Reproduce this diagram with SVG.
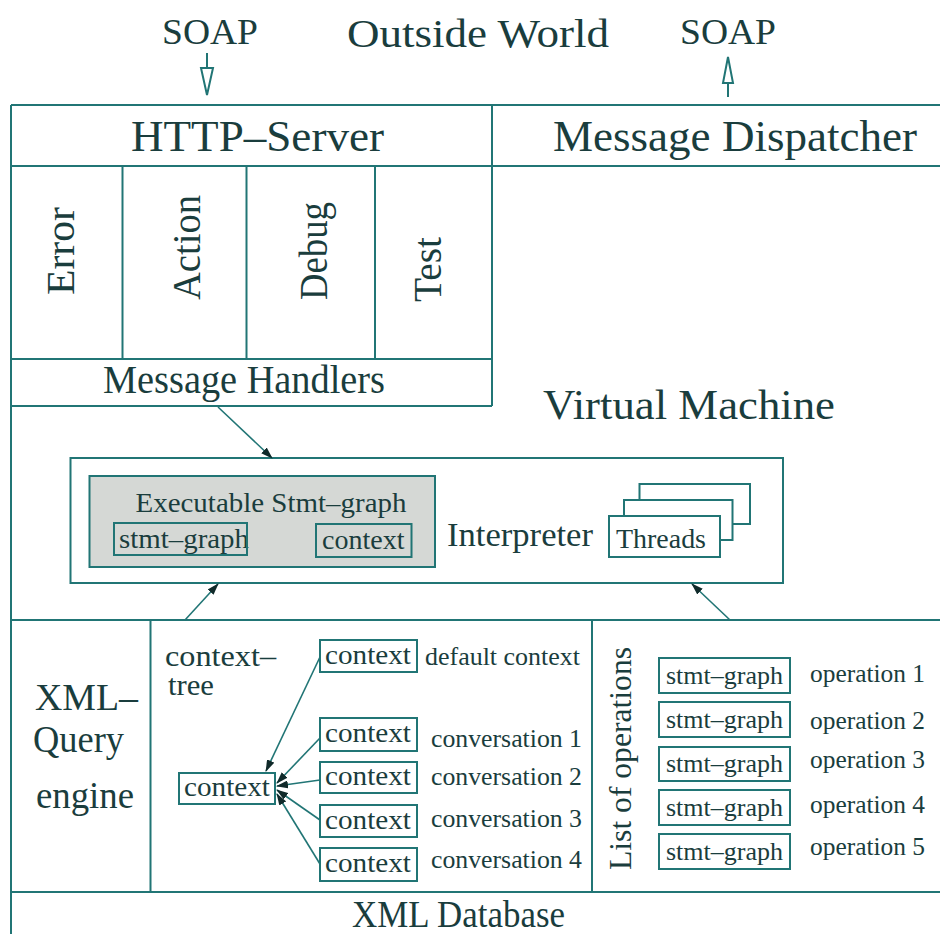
<svg xmlns="http://www.w3.org/2000/svg" width="940" height="934" viewBox="0 0 940 934">
<style>
  .ln { stroke: #217575; stroke-width: 2; fill: none; }
  .bx { stroke: #217575; stroke-width: 2; fill: #ffffff; }
  .gray { stroke: #217575; stroke-width: 2; fill: #d5d8d5; }
  .t { font-family: "Liberation Serif", "Times New Roman", serif; fill: #1a3d3d; }
  .big { font-size: 44px; }
  .mid { font-size: 34px; }
  .sm { font-size: 28px; }
  .xs { font-size: 26px; }
  .arr { stroke: #217575; stroke-width: 1.6; fill: none; marker-end: url(#ah); }
</style>
<defs>
  <marker id="ah" viewBox="0 0 12 8" refX="11" refY="4" markerWidth="12" markerHeight="8" markerUnits="userSpaceOnUse" orient="auto">
    <path d="M0,0 L12,4 L0,8 Z" fill="#102a2a"/>
  </marker>
</defs>
<rect width="940" height="934" fill="#ffffff"/>

<g id="outside">
  <text class="t" x="162" y="44" font-size="35" textLength="96" lengthAdjust="spacingAndGlyphs">SOAP</text>
  <text class="t" x="347" y="47" font-size="41" textLength="262" lengthAdjust="spacingAndGlyphs">Outside World</text>
  <text class="t" x="680" y="44" font-size="35" textLength="96" lengthAdjust="spacingAndGlyphs">SOAP</text>
</g>

<g id="frame">
  <line class="ln" x1="11" y1="105" x2="940" y2="105"/>
  <line class="ln" x1="11" y1="105" x2="11" y2="934"/>
  <line class="ln" x1="11" y1="166" x2="940" y2="166"/>
  <line class="ln" x1="11" y1="620" x2="940" y2="620"/>
  <line class="ln" x1="11" y1="892" x2="940" y2="892"/>
</g>

<g id="http-server">
  <line class="ln" x1="492" y1="105" x2="492" y2="406"/>
  <text class="t big" x="131" y="151" textLength="253" lengthAdjust="spacingAndGlyphs">HTTP–Server</text>
</g>

<g id="message-dispatcher">
  <text class="t big" x="553" y="151" textLength="364" lengthAdjust="spacingAndGlyphs">Message Dispatcher</text>
</g>

<g id="message-handlers">
  <line class="ln" x1="122.5" y1="166" x2="122.5" y2="359"/>
  <line class="ln" x1="246.5" y1="166" x2="246.5" y2="359"/>
  <line class="ln" x1="375" y1="166" x2="375" y2="359"/>
  <line class="ln" x1="11" y1="359" x2="492" y2="359"/>
  <line class="ln" x1="11" y1="406" x2="492" y2="406"/>
  <text class="t" font-size="41" transform="translate(74,295) rotate(-90)" textLength="88" lengthAdjust="spacingAndGlyphs">Error</text>
  <text class="t" font-size="41" transform="translate(200,300) rotate(-90)" textLength="105" lengthAdjust="spacingAndGlyphs">Action</text>
  <text class="t" font-size="41" transform="translate(327,300) rotate(-90)" textLength="98" lengthAdjust="spacingAndGlyphs">Debug</text>
  <text class="t" font-size="41" transform="translate(441,302) rotate(-90)" textLength="65" lengthAdjust="spacingAndGlyphs">Test</text>
  <text class="t" font-size="40" x="103" y="393" textLength="282" lengthAdjust="spacingAndGlyphs">Message Handlers</text>
</g>

<g id="virtual-machine">
  <text class="t" font-size="43" x="543" y="419" textLength="292" lengthAdjust="spacingAndGlyphs">Virtual Machine</text>
  <rect class="bx" x="70.5" y="458" width="712.5" height="125"/>
  <text class="t mid" x="447" y="546" textLength="146" lengthAdjust="spacingAndGlyphs">Interpreter</text>
</g>

<g id="executable-stmt-graph">
  <rect class="gray" x="89.5" y="476" width="345.5" height="91"/>
  <text class="t sm" x="135.5" y="512" textLength="271" lengthAdjust="spacingAndGlyphs" fill="#102e2e">Executable Stmt–graph</text>
  <text class="t sm" x="119" y="548" textLength="130" lengthAdjust="spacingAndGlyphs">stmt–graph</text>
  <rect class="ln" x="114" y="523" width="133" height="32"/>
  <rect class="ln" x="316" y="524" width="95.5" height="33"/>
  <text class="t sm" x="322" y="549" textLength="82.5" lengthAdjust="spacingAndGlyphs">context</text>
</g>

<g id="threads">
  <rect class="bx" x="639.5" y="484" width="110.5" height="40"/>
  <rect class="bx" x="624" y="500" width="108.5" height="40"/>
  <rect class="bx" x="609" y="516" width="111" height="41"/>
  <text class="t sm" x="616" y="548" textLength="90" lengthAdjust="spacingAndGlyphs">Threads</text>
</g>

<g id="xml-query-engine">
  <line class="ln" x1="150.5" y1="620" x2="150.5" y2="892"/>
  <text class="t" font-size="37" x="35" y="710" textLength="103" lengthAdjust="spacingAndGlyphs">XML–</text>
  <text class="t" font-size="37" x="33" y="752" textLength="91" lengthAdjust="spacingAndGlyphs">Query</text>
  <text class="t" font-size="37" x="36" y="808" textLength="98" lengthAdjust="spacingAndGlyphs">engine</text>
</g>

<g id="context-tree">
  <text class="t" font-size="29" x="165" y="666" textLength="111" lengthAdjust="spacingAndGlyphs">context–</text>
  <text class="t" font-size="29" x="168" y="695" textLength="46" lengthAdjust="spacingAndGlyphs">tree</text>
  <g id="ctx-root">
    <rect class="bx" x="179" y="773" width="96" height="31"/>
    <text class="t sm" x="184" y="796" textLength="86" lengthAdjust="spacingAndGlyphs">context</text>
  </g>
  <g id="ctx-default">
    <rect class="bx" x="320" y="640" width="97" height="32"/>
    <text class="t sm" x="325" y="664" textLength="86" lengthAdjust="spacingAndGlyphs">context</text>
    <text class="t xs" x="425" y="665" textLength="155" lengthAdjust="spacingAndGlyphs">default context</text>
  </g>
  <g id="ctx-conv1">
    <rect class="bx" x="320" y="718" width="97" height="33"/>
    <text class="t sm" x="325" y="742" textLength="86" lengthAdjust="spacingAndGlyphs">context</text>
    <text class="t xs" x="431" y="747" textLength="151" lengthAdjust="spacingAndGlyphs">conversation 1</text>
  </g>
  <g id="ctx-conv2">
    <rect class="bx" x="320" y="762" width="97" height="31"/>
    <text class="t sm" x="325" y="785" textLength="86" lengthAdjust="spacingAndGlyphs">context</text>
    <text class="t xs" x="431" y="785" textLength="151" lengthAdjust="spacingAndGlyphs">conversation 2</text>
  </g>
  <g id="ctx-conv3">
    <rect class="bx" x="320" y="805" width="97" height="32"/>
    <text class="t sm" x="325" y="829" textLength="86" lengthAdjust="spacingAndGlyphs">context</text>
    <text class="t xs" x="431" y="827" textLength="151" lengthAdjust="spacingAndGlyphs">conversation 3</text>
  </g>
  <g id="ctx-conv4">
    <rect class="bx" x="320" y="848" width="97" height="33"/>
    <text class="t sm" x="325" y="872" textLength="86" lengthAdjust="spacingAndGlyphs">context</text>
    <text class="t xs" x="431" y="868" textLength="151" lengthAdjust="spacingAndGlyphs">conversation 4</text>
  </g>
</g>

<g id="list-of-operations">
  <line class="ln" x1="592" y1="620" x2="592" y2="892"/>
  <text class="t" font-size="32" transform="translate(631,870) rotate(-90)" textLength="223" lengthAdjust="spacingAndGlyphs">List of operations</text>
  <g id="op1">
    <rect class="bx" x="659" y="658" width="131" height="35"/>
    <text class="t xs" x="666" y="684" textLength="117" lengthAdjust="spacingAndGlyphs">stmt–graph</text>
    <text class="t xs" x="810" y="682" textLength="115" lengthAdjust="spacingAndGlyphs">operation 1</text>
  </g>
  <g id="op2">
    <rect class="bx" x="659" y="702" width="131" height="35"/>
    <text class="t xs" x="666" y="728" textLength="117" lengthAdjust="spacingAndGlyphs">stmt–graph</text>
    <text class="t xs" x="810" y="729" textLength="115" lengthAdjust="spacingAndGlyphs">operation 2</text>
  </g>
  <g id="op3">
    <rect class="bx" x="659" y="747" width="131" height="34"/>
    <text class="t xs" x="666" y="772" textLength="117" lengthAdjust="spacingAndGlyphs">stmt–graph</text>
    <text class="t xs" x="810" y="768" textLength="115" lengthAdjust="spacingAndGlyphs">operation 3</text>
  </g>
  <g id="op4">
    <rect class="bx" x="659" y="790" width="131" height="35"/>
    <text class="t xs" x="666" y="816" textLength="117" lengthAdjust="spacingAndGlyphs">stmt–graph</text>
    <text class="t xs" x="810" y="813" textLength="115" lengthAdjust="spacingAndGlyphs">operation 4</text>
  </g>
  <g id="op5">
    <rect class="bx" x="659" y="834" width="131" height="35"/>
    <text class="t xs" x="666" y="860" textLength="117" lengthAdjust="spacingAndGlyphs">stmt–graph</text>
    <text class="t xs" x="810" y="855" textLength="115" lengthAdjust="spacingAndGlyphs">operation 5</text>
  </g>
</g>

<g id="xml-database">
  <text class="t" font-size="37" x="352" y="927" textLength="213" lengthAdjust="spacingAndGlyphs">XML Database</text>
</g>

<g id="connectors">
  <line class="ln" x1="207" y1="53" x2="207" y2="68"/>
  <polygon points="201,68 213,68 207,95" fill="#ffffff" stroke="#217575" stroke-width="2"/>
  <line class="ln" x1="728" y1="83" x2="728" y2="97"/>
  <polygon points="723,83 733,83 728,57" fill="#ffffff" stroke="#217575" stroke-width="2"/>
  <line class="arr" x1="218" y1="407" x2="272" y2="458"/>
  <line class="arr" x1="185" y1="620" x2="218" y2="584"/>
  <line class="arr" x1="730" y1="620" x2="692" y2="584"/>
  <line class="arr" x1="320" y1="657" x2="266" y2="771"/>
  <line class="arr" x1="320" y1="738" x2="277" y2="783"/>
  <line class="arr" x1="320" y1="780" x2="277" y2="786"/>
  <line class="arr" x1="320" y1="820" x2="277" y2="790"/>
  <line class="arr" x1="320" y1="864" x2="277" y2="794"/>
</g>
</svg>
